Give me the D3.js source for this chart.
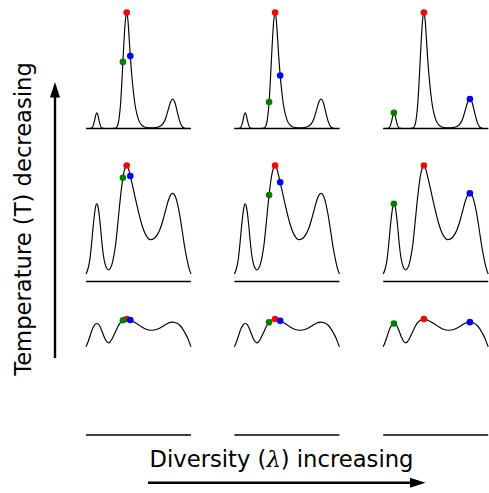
<!DOCTYPE html>
<html>
<head>
<meta charset="utf-8">
<script src="https://cdn.jsdelivr.net/npm/d3@7"></script>
<style>
  html, body { margin: 0; padding: 0; background: #ffffff; }
  svg { display: block; }
</style>
</head>
<body>
<svg id="chart" width="489" height="493"></svg>
<script>
// ---------- data ----------
// shared sample positions along each panel's horizontal axis
const uGrid = [0, 2, 4, 5.5, 7, 8.5, 9.7, 10.7, 11.7, 13, 14.5, 16, 17.5, 19, 21, 22.5, 24, 26, 28, 29.5,
  31, 32.5, 33.5, 34.7, 35.7, 36.9, 38, 39.3, 40.7, 42, 43.2, 44.3, 45.8, 47.5, 49, 51, 53, 55.5, 58, 61,
  64.5, 68, 71, 74, 77, 79.5, 82, 84.5, 86.7, 89, 91.5, 94, 96.5, 99, 101.5, 103.5, 105];

// curve heights (relative to peak) for each temperature row, top (low T) to bottom (high T)
const rowLowT = [0, 0, 0.0003, 0.0034, 0.0206, 0.0656, 0.116, 0.135, 0.121, 0.0715, 0.0229, 0.0039, 0.0005, 0.0001, 0, 0, 0, 0.0001, 0.0006, 0.0029,
  0.0147, 0.055, 0.116, 0.229, 0.371, 0.574, 0.754, 0.927, 1, 0.927, 0.774, 0.624, 0.457, 0.308, 0.207, 0.121, 0.0656, 0.031, 0.0157, 0.0085,
  0.006, 0.0069, 0.0102, 0.0185, 0.0418, 0.0845, 0.156, 0.229, 0.254, 0.222, 0.135, 0.055, 0.013, 0.0017, 0.0001, 0, 0];
const rowMidT = [0.065, 0.11, 0.20, 0.32, 0.46, 0.58, 0.65, 0.67, 0.655, 0.59, 0.47, 0.33, 0.22, 0.155, 0.11, 0.10, 0.11, 0.15, 0.23, 0.31,
  0.43, 0.56, 0.65, 0.745, 0.82, 0.895, 0.945, 0.985, 1, 0.985, 0.95, 0.91, 0.855, 0.79, 0.73, 0.655, 0.58, 0.50, 0.435, 0.385,
  0.36, 0.37, 0.40, 0.45, 0.53, 0.61, 0.69, 0.745, 0.76, 0.74, 0.67, 0.56, 0.42, 0.28, 0.17, 0.10, 0.065];
const rowHighT = [0.761, 0.802, 0.851, 0.892, 0.925, 0.947, 0.958, 0.961, 0.959, 0.949, 0.927, 0.895, 0.860, 0.830, 0.802, 0.794, 0.802, 0.827, 0.863, 0.890,
  0.919, 0.944, 0.958, 0.971, 0.980, 0.989, 0.994, 0.998, 1, 0.998, 0.995, 0.991, 0.984, 0.977, 0.969, 0.959, 0.947, 0.933, 0.920, 0.909,
  0.903, 0.905, 0.912, 0.923, 0.938, 0.952, 0.964, 0.971, 0.973, 0.970, 0.961, 0.944, 0.917, 0.880, 0.838, 0.794, 0.761];
const rows = [rowLowT, rowMidT, rowHighT];

// sample positions of the three points in each diversity column (draw order: red, green, blue)
const dotColors = ["#ff0000", "#008000", "#0000ff"];
const dotsLowDiv  = [40.7, 36.9, 44.3];
const dotsMidDiv  = [40.7, 34.7, 45.8];
const dotsHighDiv = [40.7, 10.7, 86.7];
const columns = [dotsLowDiv, dotsMidDiv, dotsHighDiv];

const yLabel = "Temperature (T) decreasing";
const xLabelPre = "Diversity (";
const xLabelSym = "λ";
const xLabelPost = ") increasing";

// ---------- layout ----------
const svg = d3.select("#chart");
const colLeft = [86, 234.4, 383.2];
const panelW = 105;
const rowBase = [128.5, 281.5, 435];
const peakH = 116;
const font = "'DejaVu Sans', 'Liberation Sans', sans-serif";
const fontSize = 22.67;

rows.forEach((vals, ri) => {
  const y = d3.scaleLinear().domain([0, 1]).range([rowBase[ri], rowBase[ri] - peakH]);
  columns.forEach((dotsU, ci) => {
    const x = d3.scaleLinear().domain([0, 105]).range([colLeft[ci], colLeft[ci] + panelW]);
    const g = svg.append("g");
    // baseline axis
    g.append("line")
      .attr("x1", x(0)).attr("x2", x(105))
      .attr("y1", y(0)).attr("y2", y(0))
      .attr("stroke", "#000").attr("stroke-width", 1.6);
    // curve
    const pts = uGrid.map((u, i) => [u, vals[i]]);
    g.append("path")
      .datum(pts)
      .attr("fill", "none")
      .attr("stroke", "#000")
      .attr("stroke-width", 1.15)
      .attr("d", d3.line().x(d => x(d[0])).y(d => y(d[1])).curve(d3.curveMonotoneX));
    // dots
    g.selectAll("circle")
      .data(dotsU)
      .join("circle")
      .attr("cx", u => x(u))
      .attr("cy", u => y(vals[uGrid.indexOf(u)]))
      .attr("r", 3.3)
      .attr("fill", (u, i) => dotColors[i]);
  });
});

// ---------- arrows & labels ----------
// vertical arrow
svg.append("line")
  .attr("x1", 55).attr("x2", 55).attr("y1", 358).attr("y2", 95)
  .attr("stroke", "#000").attr("stroke-width", 2.4);
svg.append("path")
  .attr("d", d3.line()([[55, 82], [50, 97.5], [60, 97.5]]) + "Z")
  .attr("fill", "#000");
// horizontal arrow
svg.append("line")
  .attr("x1", 148).attr("x2", 412).attr("y1", 482.7).attr("y2", 482.7)
  .attr("stroke", "#000").attr("stroke-width", 2.4);
svg.append("path")
  .attr("d", d3.line()([[425.5, 482.7], [410, 477.7], [410, 487.7]]) + "Z")
  .attr("fill", "#000");

svg.append("text")
  .attr("transform", "translate(31,219) rotate(-90)")
  .attr("text-anchor", "middle")
  .attr("font-family", font)
  .attr("font-size", fontSize)
  .attr("fill", "#000")
  .text(yLabel);

const xt = svg.append("text")
  .attr("x", 281.5).attr("y", 466.5)
  .attr("text-anchor", "middle")
  .attr("font-family", font)
  .attr("font-size", fontSize)
  .attr("fill", "#000");
xt.append("tspan").text(xLabelPre);
xt.append("tspan").attr("font-family", "'DejaVu Serif', serif").attr("font-style", "italic").text(xLabelSym);
xt.append("tspan").text(xLabelPost);
</script>
</body>
</html>
